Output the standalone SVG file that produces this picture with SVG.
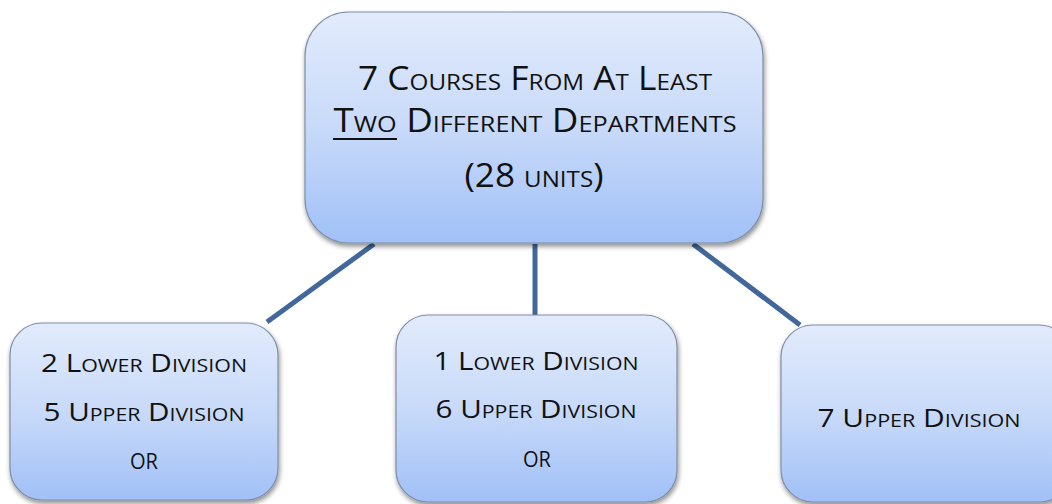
<svg xmlns="http://www.w3.org/2000/svg" width="1052" height="504" viewBox="0 0 1052 504">
<defs>
<linearGradient id="g" x1="0" y1="0" x2="0" y2="1">
<stop offset="0" stop-color="#e2ebfc"/>
<stop offset="0.5" stop-color="#c8daf9"/>
<stop offset="1" stop-color="#a1c0f7"/>
</linearGradient>
<filter id="sh" x="-10%" y="-10%" width="120%" height="130%">
<feGaussianBlur in="SourceAlpha" stdDeviation="2.5"/>
<feOffset dx="1" dy="3" result="b"/>
<feComponentTransfer><feFuncA type="linear" slope="0.45"/></feComponentTransfer>
<feMerge><feMergeNode/><feMergeNode in="SourceGraphic"/></feMerge>
</filter>
</defs>
<style>
.box{fill:url(#g);stroke:#7d8ea6;stroke-width:1.2;filter:url(#sh)}
.t{font-family:"Open Sans","Liberation Sans",Arial,sans-serif;font-variant:small-caps;fill:#111;text-anchor:middle}
.big{font-size:32px}
.sm{font-size:25px}
.or{font-size:30px}
.con line{stroke:#41679b;stroke-width:5;stroke-linecap:butt}
</style>
<rect width="1052" height="504" fill="#fff"/>
<g class="con">
<line x1="374" y1="244" x2="267" y2="322"/>
<line x1="535" y1="244" x2="535" y2="316"/>
<line x1="693" y1="244" x2="800" y2="325"/>
</g>
<g id="top">
<rect class="box" x="305" y="12" width="458" height="231" rx="44"/>
<text class="t big" x="535" y="90" textLength="354" lengthAdjust="spacingAndGlyphs">7 Courses From At Least</text>
<text class="t big" x="535" y="132" textLength="403" lengthAdjust="spacingAndGlyphs">Two Different Departments</text>
<line x1="333" y1="139" x2="397" y2="139" stroke="#111" stroke-width="2"/>
<text class="t big" x="534" y="187" textLength="139" lengthAdjust="spacingAndGlyphs">(28 units)</text>
</g>
<g id="left">
<rect class="box" x="10" y="323" width="268" height="177" rx="32"/>
<text class="t sm" x="144" y="372" textLength="206" lengthAdjust="spacingAndGlyphs">2 Lower Division</text>
<text class="t sm" x="144" y="421" textLength="201" lengthAdjust="spacingAndGlyphs">5 Upper Division</text>
<text class="t or" x="144" y="469" textLength="28" lengthAdjust="spacingAndGlyphs">or</text>
</g>
<g id="middle">
<rect class="box" x="396" y="315" width="281" height="187" rx="32"/>
<text class="t sm" x="536" y="370" textLength="205" lengthAdjust="spacingAndGlyphs">1 Lower Division</text>
<text class="t sm" x="536" y="418" textLength="201" lengthAdjust="spacingAndGlyphs">6 Upper Division</text>
<text class="t or" x="537" y="467" textLength="28" lengthAdjust="spacingAndGlyphs">or</text>
</g>
<g id="right">
<rect class="box" x="781" y="325" width="290" height="177" rx="32"/>
<text class="t sm" x="919" y="427" textLength="203" lengthAdjust="spacingAndGlyphs">7 Upper Division</text>
</g>
</svg>
